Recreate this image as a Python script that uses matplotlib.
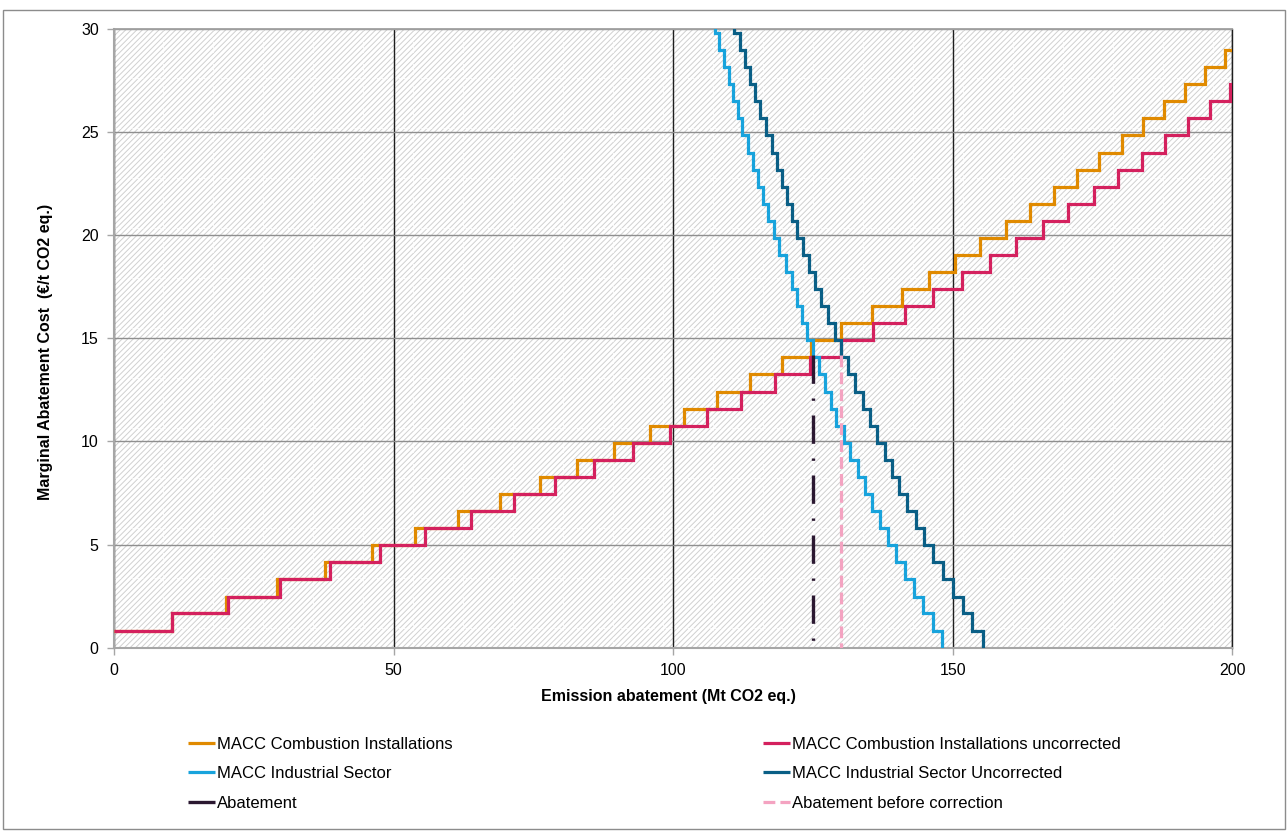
import matplotlib
matplotlib.use('Agg')
import matplotlib.pyplot as plt
from matplotlib.patches import Rectangle
from matplotlib.lines import Line2D

plt.rcParams['font.family'] = ['Liberation Sans', 'DejaVu Sans']
plt.rcParams['hatch.linewidth'] = 0.7

# marginal cost levels of the staircases (EUR/t)
cost_levels = [0.83, 1.66, 2.48, 3.31, 4.14, 4.97, 5.80, 6.62, 7.45, 8.28,
               9.11, 9.94, 10.76, 11.59, 12.42, 13.25, 14.08, 14.90, 15.73,
               16.56, 17.39, 18.22, 19.04, 19.87, 20.70, 21.53, 22.36, 23.18,
               24.01, 24.84, 25.67, 26.50, 27.32, 28.15, 28.98, 29.81, 30.64]

# abatement (Mt) where the rising curves step up to the next level
comb_steps = [10.3, 20.05, 29.1, 37.8, 46.1, 53.9, 61.6, 69.1, 76.1, 82.8,
              89.4, 95.8, 102.0, 107.9, 113.7, 119.4, 124.6, 130.1, 135.6,
              141.0, 145.8, 150.4, 154.9, 159.5, 163.8, 168.1, 172.2, 176.2,
              180.2, 184.1, 187.8, 191.6, 195.2, 198.7]
comb_unc_steps = [10.33, 20.35, 29.7, 38.7, 47.5, 55.7, 63.8, 71.5, 78.8,
                  85.8, 92.8, 99.4, 106.0, 112.2, 118.2, 124.5, 130.1, 135.8,
                  141.4, 146.5, 151.7, 156.6, 161.4, 166.2, 170.7, 175.2,
                  179.6, 183.8, 188.0, 192.0, 196.1, 199.6]

# abatement (Mt) where the falling curves step, from the bottom level up
ind_steps = [148.1, 146.4, 144.7, 143.1, 141.5, 139.9, 138.4, 137.0, 135.6,
             134.3, 133.0, 131.7, 130.5, 129.1, 128.2, 127.1, 126.0, 125.0,
             124.0, 123.1, 122.2, 121.2, 120.1, 119.0, 118.0, 117.0, 116.0,
             115.1, 114.2, 113.3, 112.4, 111.6, 110.7, 109.9, 109.1, 108.2,
             107.4]
ind_unc_steps = [155.4, 153.5, 151.8, 150.1, 148.2, 146.5, 144.9, 143.4,
                 141.9, 140.4, 139.1, 137.8, 136.5, 135.2, 133.9, 132.5,
                 131.2, 130.1, 129.0, 127.7, 126.5, 125.4, 124.3, 123.3,
                 122.2, 121.3, 120.4, 119.5, 118.6, 117.6, 116.6, 115.6,
                 114.7, 113.8, 112.9, 112.0, 110.9]

abatement = 125.0
abatement_before = 130.1
abatement_price = 14.2

x_ticks = [0, 50, 100, 150, 200]
y_ticks = [0, 5, 10, 15, 20, 25, 30]


def rising(steps, levels, x_end=201):
    xs = [0]
    for s in steps:
        xs += [s, s]
    xs.append(x_end)
    ys = []
    for l in levels[:len(steps) + 1]:
        ys += [l, l]
    return xs, ys


def falling(steps, levels):
    xs = []
    for s in steps:
        xs += [s, s]
    ys = []
    for l in [0] + levels[:len(steps)]:
        ys += [l, l]
    return xs, ys[1:-1]


W, H = 1288, 836
fig = plt.figure(figsize=(W / 100, H / 100), dpi=100)
x0, x1 = 114, 1232.3
y_top, y_bot = 29, 647.7
ax = fig.add_axes([x0 / W, 1 - y_bot / H, (x1 - x0) / W, (y_bot - y_top) / H])

# hatched plot area
ax.add_patch(Rectangle((0, 0), 1, 1, transform=ax.transAxes, facecolor='white',
                       edgecolor='#d0d0d0', linewidth=0, hatch='//////', zorder=0))
# faint seams of the fill tiles
for k in range(1, 23):
    fx = (113 + 50 * k - x0) / (x1 - x0)
    ax.add_line(Line2D([fx, fx], [0, 1], transform=ax.transAxes, color='white',
                       lw=0.8, ls=(0, (2, 2)), alpha=0.8, zorder=0.2))
for k in range(1, 13):
    fy = (y_bot - (28 + 50 * k)) / (y_bot - y_top)
    ax.add_line(Line2D([0, 1], [fy, fy], transform=ax.transAxes, color='white',
                       lw=0.8, ls=(0, (2, 2)), alpha=0.8, zorder=0.2))

ax.set_xlim(0, 200)
ax.set_ylim(0, 30)
ax.set_xticks(x_ticks)
ax.set_yticks(y_ticks)
ax.set_axisbelow(True)
ax.xaxis.grid(True, color='#1e1e1e', lw=1.0)
ax.yaxis.grid(True, color='#8f8f8f', lw=1.0)

lw = 2.3
kw = dict(lw=lw, solid_joinstyle='miter', solid_capstyle='butt', zorder=3)
xs, ys = rising(comb_steps, cost_levels)
ax.plot(xs, ys, color='#e08a00', label='MACC Combustion Installations', **kw)
xs, ys = rising(comb_unc_steps, cost_levels)
ax.plot(xs, ys, color='#d4215e', label='MACC Combustion Installations uncorrected', **kw)
xs, ys = falling(ind_steps, cost_levels)
ax.plot(xs, ys, color='#18a3dc', label='MACC Industrial Sector', **kw)
xs, ys = falling(ind_unc_steps, cost_levels)
ax.plot(xs, ys, color='#0a5f86', label='MACC Industrial Sector Uncorrected', **kw)
ax.plot([abatement, abatement], [abatement_price, 0], color='#2b1831', lw=2.4,
        ls=(0, (8.5, 4.4, 0.7, 4.4)), zorder=4, label='Abatement')
ax.plot([abatement_before, abatement_before], [abatement_price, 0], color='#f4a3c1',
        lw=2.3, ls=(0, (3.7, 1.6)), zorder=4, label='Abatement before correction')

for side in ['left', 'bottom']:
    ax.spines[side].set_color('#a6a6a6')
    ax.spines[side].set_linewidth(1.5)
ax.spines['top'].set_color('#a0a0a0')
ax.spines['top'].set_linewidth(1.3)
ax.spines['right'].set_color('#1e1e1e')
ax.spines['right'].set_linewidth(1.0)
ax.spines['right'].set_zorder(2)
ax.tick_params(axis='both', direction='out', length=5, width=1, color='#a6a6a6',
               labelsize=11.5, pad=6, labelcolor='black')

fig.text(668 / W, 1 - 697 / H, 'Emission abatement (Mt CO2 eq.)', ha='center',
         va='center', fontsize=11.5, fontweight='bold')
fig.text(46 / W, 1 - 352 / H, 'Marginal Abatement Cost  (\u20ac/t CO2 eq.)',
         ha='center', va='center', rotation=90, fontsize=11.5, fontweight='bold')

handles, labels = ax.get_legend_handles_labels()
leg_kw = dict(loc='upper left', frameon=False, fontsize=12, handlelength=1.6,
              handletextpad=0.15, labelspacing=0.86, borderpad=0, borderaxespad=0)
fig.legend([handles[i] for i in (0, 2, 4)], [labels[i] for i in (0, 2, 4)],
           bbox_to_anchor=(188 / W, 1 - 737 / H), **leg_kw)
fig.legend([handles[i] for i in (1, 3, 5)], [labels[i] for i in (1, 3, 5)],
           bbox_to_anchor=(763 / W, 1 - 737 / H), **leg_kw)

# outer chart frame
fig.add_artist(Rectangle((3 / W, 1 - 829 / H), 1282 / W, 819 / H, transform=fig.transFigure,
                         fill=False, edgecolor='#8c8c8c', lw=1.0))

fig.savefig('out.png', dpi=100)
